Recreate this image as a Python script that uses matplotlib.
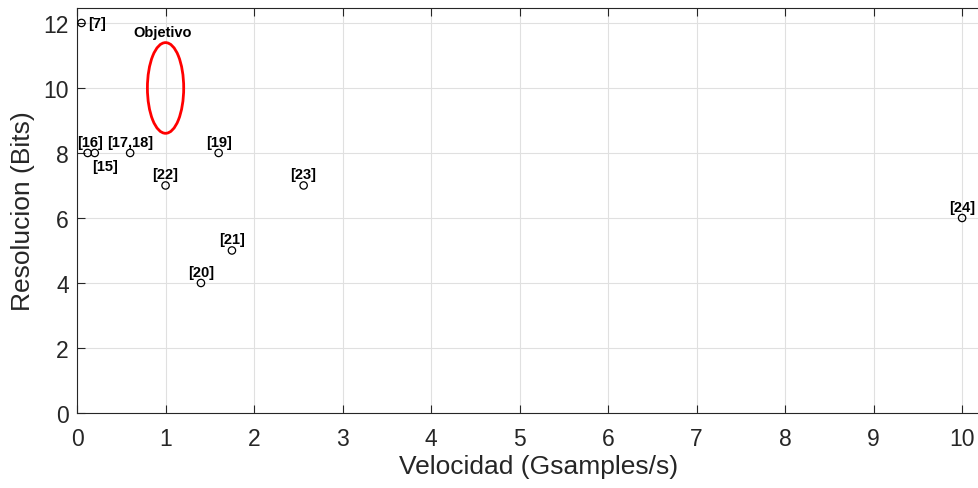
import matplotlib
matplotlib.use("Agg")
import matplotlib.pyplot as plt
from matplotlib.patches import Ellipse

plt.rcParams['font.family'] = ['Liberation Sans', 'DejaVu Sans']

# Data
refs = ["[7]", "[16]", "[15]", "[17,18]", "[19]", "[22]", "[23]", "[21]", "[20]", "[24]"]
speed = [0.05, 0.12, 0.2, 0.6, 1.6, 1.0, 2.56, 1.75, 1.4, 10.0]
resolution = [12, 8, 8, 8, 8, 7, 7, 5, 4, 6]
# label offsets in points (dx, dy) and alignment
label_pos = {
    "[7]": (5, 0, 'left', 'center'),
    "[16]": (2, 3, 'center', 'bottom'),
    "[15]": (-2, -4, 'left', 'top'),
    "[17,18]": (0, 3, 'center', 'bottom'),
    "[19]": (0, 3, 'center', 'bottom'),
    "[22]": (0, 3, 'center', 'bottom'),
    "[23]": (0, 3, 'center', 'bottom'),
    "[21]": (0, 3, 'center', 'bottom'),
    "[20]": (0, 3, 'center', 'bottom'),
    "[24]": (0, 3, 'center', 'bottom'),
}
target_x, target_y = 1.0, 10.0
target_w, target_h = 0.41, 2.79
target_label = "Objetivo"

gray = (0.15, 0.15, 0.15)

fig = plt.figure(figsize=(9.79, 4.89), dpi=100)
ax = fig.add_axes([0.0787, 0.1534, 0.942, 0.8282])

ax.scatter(speed, resolution, s=28, facecolors='none', edgecolors='black', linewidths=0.9, zorder=3)
for r, x, y in zip(refs, speed, resolution):
    dx, dy, ha, va = label_pos[r]
    ax.annotate(r, (x, y), xytext=(dx, dy), textcoords='offset points',
                ha=ha, va=va, fontsize=10.5, fontweight='bold', color='black', zorder=4)

ax.add_patch(Ellipse((target_x, target_y), target_w, target_h, fill=False,
                     edgecolor='red', linewidth=2, zorder=3))
ax.text(0.97, 11.72, target_label, ha='center', va='center',
        fontsize=10.5, fontweight='bold', color='black')

ax.set_xlim(0, 10.42)
ax.set_ylim(0, 12.46)
ax.set_xticks(range(0, 11))
ax.set_yticks(range(0, 13, 2))
ax.grid(True, color=(0.88, 0.88, 0.88), linewidth=0.8)
ax.set_axisbelow(True)
ax.tick_params(direction='in', length=6, width=0.8, colors=gray, labelsize=16.5,
               top=True, right=False, labelcolor=gray)
ax.tick_params(axis='x', pad=10)
ax.tick_params(axis='y', pad=6)
ax.spines['right'].set_visible(False)
for s in ax.spines.values():
    s.set_color(gray)
    s.set_linewidth(0.8)
ax.set_xlabel("Velocidad (Gsamples/s)", fontsize=19, color=gray, labelpad=3)
ax.set_ylabel("Resolucion (Bits)", fontsize=19, color=gray, labelpad=6)

fig.savefig("out.png", dpi=100)
